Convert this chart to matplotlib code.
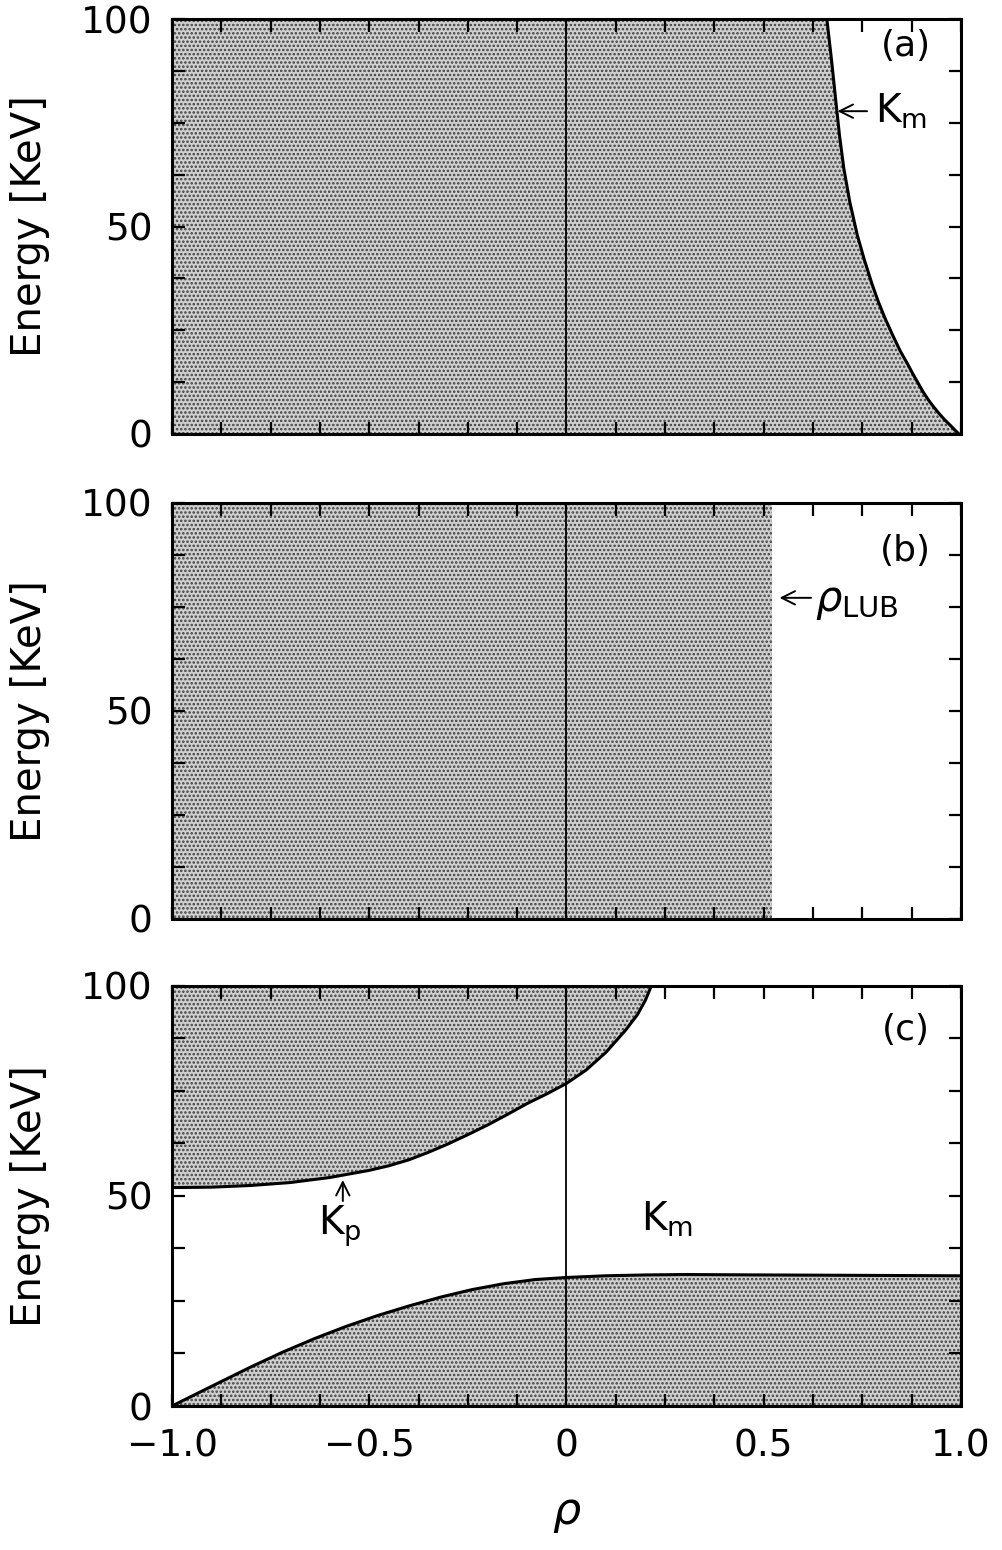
import numpy as np
import matplotlib
matplotlib.use("Agg")
import matplotlib.pyplot as plt
from matplotlib.ticker import MultipleLocator, FixedLocator

plt.rcParams['font.family'] = ['DejaVu Sans']
plt.rcParams['hatch.linewidth'] = 1.2
plt.rcParams['hatch.color'] = '#404040'

# panel (a): K_m boundary, rho as a function of energy
e_a = [0, 1, 2, 3.5, 5, 6.5, 8, 10, 12, 14.5, 17, 20, 24, 28, 32, 36,
       42, 48, 56, 64, 72, 80, 90, 100]
rho_a = [0.995, 0.984, 0.974, 0.958, 0.944, 0.931, 0.919, 0.905, 0.893,
         0.878, 0.864, 0.846, 0.826, 0.807, 0.790, 0.775, 0.755, 0.737,
         0.718, 0.703, 0.692, 0.683, 0.672, 0.660]

# panel (b): lower upper bound
rho_lub = 0.52

# panel (c): K_p (upper) and K_m (lower) boundaries
rho_kp = [-1.0, -0.9, -0.8, -0.7, -0.6, -0.5, -0.45, -0.4, -0.35, -0.3,
          -0.25, -0.2, -0.15, -0.1, -0.05, 0.0, 0.05, 0.1, 0.15, 0.18,
          0.2, 0.215]
e_kp = [52.0, 52.1, 52.5, 53.2, 54.4, 56.1, 57.2, 58.6, 60.4, 62.4,
        64.6, 66.9, 69.4, 72.0, 74.3, 76.8, 80.0, 84.2, 89.5, 93.2,
        96.6, 100.0]
rho_km = [-1.0, -0.94, -0.88, -0.8, -0.72, -0.64, -0.56, -0.48, -0.4, -0.32,
          -0.24, -0.16, -0.08, 0.0, 0.1, 0.2, 0.3, 0.5, 0.75, 1.0]
e_km = [0.0, 2.8, 5.6, 9.3, 12.8, 16.0, 18.9, 21.5, 23.8, 25.9,
        27.7, 29.1, 30.1, 30.6, 31.0, 31.2, 31.3, 31.2, 31.1, 31.0]

xticks = [-1.0, -0.5, 0.0, 0.5, 1.0]
xticklabels = ['\u22121.0', '\u22120.5', '0', '0.5', '1.0']
yticks = [0, 50, 100]

fig = plt.figure(figsize=(10.03, 15.5), dpi=100)
left, width = 0.1715, 0.7866
ax1 = fig.add_axes([left, 0.7200, width, 0.2677])
ax2 = fig.add_axes([left, 0.4071, width, 0.2684])
ax3 = fig.add_axes([left, 0.0929, width, 0.2710])

shade = dict(facecolor='#cfcfcf', edgecolor='#404040', hatch='....', linewidth=0)

# (a)
ax1.fill_betweenx(e_a, -1.0, rho_a, **shade)
ax1.plot(rho_a, e_a, color='black', lw=2.2)

# (b)
ax2.fill_betweenx([0, 100], -1.0, rho_lub, **shade)

# (c)
ax3.fill_between(rho_kp, e_kp, 100, **shade)
ax3.fill_between(rho_km, 0, e_km, **shade)
ax3.plot(rho_kp, e_kp, color='black', lw=2.2)
ax3.plot(rho_km, e_km, color='black', lw=2.2)

for ax in (ax1, ax2, ax3):
    ax.axvline(0, color='black', lw=1.3)
    ax.set_xlim(-1, 1)
    ax.set_ylim(0, 100)
    ax.xaxis.set_major_locator(FixedLocator(xticks))
    ax.xaxis.set_minor_locator(MultipleLocator(0.125))
    ax.yaxis.set_major_locator(FixedLocator(yticks))
    ax.yaxis.set_minor_locator(MultipleLocator(12.5))
    ax.tick_params(which='both', direction='in', top=True, right=True,
                   length=9, width=1.6)
    ax.tick_params(axis='y', labelsize=27, pad=14)
    ax.tick_params(axis='x', labelsize=27, pad=16)
    for s in ax.spines.values():
        s.set_linewidth(2.2)
    ax.set_ylabel('Energy [KeV]', fontsize=29)
    ax.yaxis.set_label_coords(-0.155, 0.5)
    ax.set_xticklabels(xticklabels)

ax1.tick_params(axis='x', labelbottom=False)
ax2.tick_params(axis='x', labelbottom=False)
ax3.set_xlabel(r'$\rho$', fontsize=32, labelpad=20)

# panel labels and annotations
ax1.text(0.86, 93.5, '(a)', fontsize=26, ha='center', va='center')
ax2.text(0.86, 88.5, '(b)', fontsize=26, ha='center', va='center')
ax3.text(0.86, 89.5, '(c)', fontsize=26, ha='center', va='center')

arrow = dict(arrowstyle='->', lw=1.4, color='black', shrinkA=0, shrinkB=0,
             mutation_scale=24)
ax1.annotate('', xy=(0.687, 77.8), xytext=(0.762, 77.8), arrowprops=arrow)
ax1.text(0.782, 77.8, 'K$_\\mathrm{m}$', fontsize=28, ha='left', va='center')

ax2.annotate('', xy=(0.54, 77.2), xytext=(0.62, 77.2), arrowprops=arrow)
ax2.text(0.63, 76.5, r'$\rho_{\mathrm{LUB}}$', fontsize=30, ha='left', va='center')

ax3.annotate('', xy=(-0.567, 53.8), xytext=(-0.567, 48.8), arrowprops=arrow)
ax3.text(-0.575, 42.8, 'K$_\\mathrm{p}$', fontsize=28, ha='center', va='center')
ax3.text(0.255, 44.5, 'K$_\\mathrm{m}$', fontsize=28, ha='center', va='center')

fig.savefig('out.png', dpi=100)
